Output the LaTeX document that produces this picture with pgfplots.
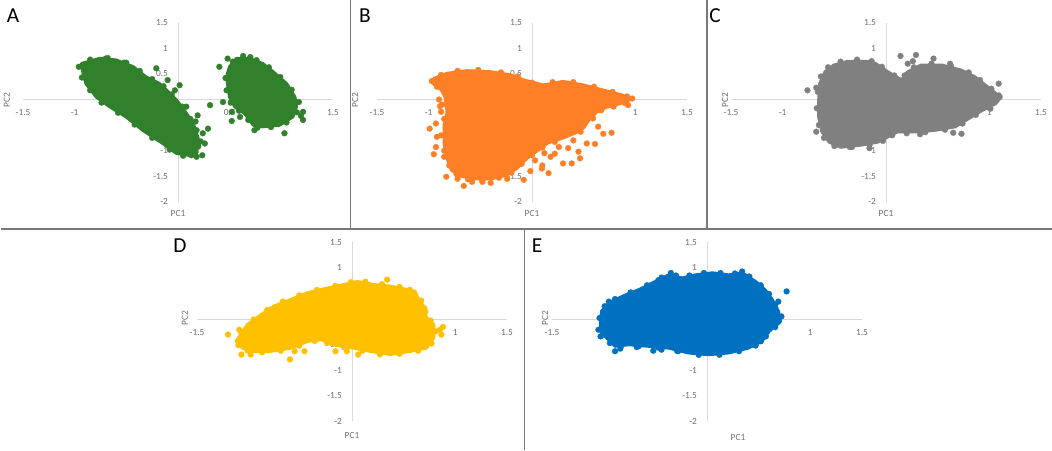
\documentclass[border=0pt]{standalone}
\usepackage{pgfplots}
\pgfplotsset{compat=1.18}
\usepackage{fontspec}
\setmainfont{Carlito}
\definecolor{cA}{RGB}{49,128,43}
\definecolor{cB}{RGB}{255,127,39}
\definecolor{cC}{RGB}{128,128,128}
\definecolor{cD}{RGB}{255,192,0}
\definecolor{cE}{RGB}{0,112,192}
\definecolor{axgray}{RGB}{217,217,217}
\definecolor{ticklab}{RGB}{110,110,110}
\definecolor{framegray}{RGB}{120,120,120}
\pgfplotsset{
  pca/.style={
    scale only axis, width=232.5pt, height=134.25pt,
    xmin=-1.5, xmax=1.5, ymin=-2, ymax=1.5,
    axis lines=middle, axis line style={draw=axgray, line width=0.75pt, -},
    xtick={-1.5,-1,-0.5,0,0.5,1,1.5},
    xticklabels={-1.5,-1,-0.5,0,0.5,1,1.5},
    ytick={-2,-1.5,-1,-0.5,0,0.5,1,1.5},
    yticklabels={-2,-1.5,-1,-0.5,0,0.5,1,1.5},
    major tick length=0pt,
    hide obscured x ticks=false, hide obscured y ticks=false,
    tick label style={font=\fontsize{7}{8}\selectfont, text=ticklab},
    xticklabel style={anchor=north, yshift=-4pt},
    yticklabel style={anchor=east, xshift=-4pt},
    anchor=origin, clip=false,
  },
  cloud/.style={fill=#1, draw=#1, line width=2.5pt, line join=round},
  dots/.style={only marks, mark=*, mark size=2.2pt,
    mark options={fill=#1, draw=#1, line width=0.2pt}},
}
\begin{document}
\begin{tikzpicture}
\useasboundingbox (0,0) rectangle (789pt,-337.5pt);

% ---------------- A ----------------
\begin{axis}[pca, at={(133.5pt,-74.625pt)}]
\addplot[cloud=cA] coordinates {
(-0.935,0.70) (-0.76,0.80) (-0.60,0.77) (-0.435,0.64) (-0.31,0.44) (-0.18,0.31)
(-0.11,0.18) (-0.016,-0.01) (0.08,-0.27) (0.145,-0.47) (0.19,-0.73) (0.21,-0.925)
(0.11,-1.09) (-0.016,-1.05) (-0.145,-0.86) (-0.34,-0.60) (-0.5,-0.34) (-0.66,-0.14)
(-0.79,0.05) (-0.89,0.31) (-0.92,0.54)} -- cycle;
\addplot[cloud=cA] coordinates {
(0.50,0.64) (0.565,0.80) (0.69,0.80) (0.82,0.70) (0.92,0.54) (1.05,0.31) (1.13,0.05)
(1.145,-0.14) (1.11,-0.34) (0.98,-0.50) (0.82,-0.53) (0.73,-0.50) (0.645,-0.27)
(0.55,-0.14) (0.50,0.05) (0.48,0.31) (0.48,0.51)} -- cycle;
\addplot[dots=cA] coordinates {
(-0.21,0.61) (-0.10,0.38) (0.016,0.28) (-0.03,0.18) (0.08,-0.14) (0.31,-0.11)
(0.29,-0.57) (0.24,-0.66) (0.26,-0.86) (0.235,-1.09) (0.18,-1.12) (0.13,-1.09)
(0.19,-0.31) (0.17,-0.43) (0.07,-0.33) (-0.70,0.80) (-0.50,0.72)
(0.40,0.64) (0.48,0.80) (0.70,0.83) (0.435,-0.05) (0.52,-0.24) (0.52,-0.42)
(0.60,-0.34) (0.74,-0.60) (1.03,-0.66) (1.21,-0.24) (1.21,-0.40) (1.19,-0.32)
(-0.85,0.78) (-0.68,0.81) (-0.52,0.72) (-0.37,0.56) (-0.25,0.40) (-0.14,0.26)
(-0.06,0.10) (0.04,-0.14) (0.12,-0.38) (0.18,-0.60) (0.22,-0.82) (0.17,-1.02)
(0.05,-1.10) (-0.08,-0.98) (-0.25,-0.75) (-0.42,-0.49) (-0.58,-0.26) (-0.74,-0.06)
(-0.85,0.18) (-0.93,0.43) (-0.96,0.64)
(0.53,0.74) (0.63,0.85) (0.76,0.77) (0.88,0.63) (0.99,0.44) (1.10,0.19) (1.17,-0.05)
(1.15,-0.25) (1.05,-0.45) (0.90,-0.54) (0.77,-0.55) (0.68,-0.40) (0.59,-0.22)
(0.51,-0.06) (0.47,0.18) (0.46,0.42)};
\end{axis}

% ---------------- B ----------------
\begin{axis}[pca, at={(399pt,-74.625pt)}]
\addplot[cloud=cB] coordinates {
(-0.95,0.41) (-0.82,0.51) (-0.63,0.56) (-0.40,0.54) (-0.21,0.48) (-0.08,0.38)
(0.11,0.28) (0.30,0.35) (0.50,0.28) (0.69,0.18) (0.88,0.08) (0.95,0.0) (0.85,-0.08)
(0.72,-0.15) (0.62,-0.25) (0.55,-0.40) (0.50,-0.55) (0.42,-0.65) (0.30,-0.75)
(0.15,-0.85) (0.05,-1.0) (-0.05,-1.15) (-0.15,-1.35) (-0.25,-1.48) (-0.40,-1.55)
(-0.55,-1.55) (-0.68,-1.50) (-0.78,-1.38) (-0.82,-1.15) (-0.85,-0.85) (-0.85,-0.50)
(-0.82,-0.25) (-0.84,0.05) (-0.88,0.20) (-0.95,0.30)} -- cycle;
\addplot[dots=cB] coordinates {
(-0.90,0) (-0.89,-0.13) (-0.88,-0.24) (-0.99,-0.57) (-0.93,-0.47) (-0.92,-0.73)
(-0.93,-0.93) (-0.95,-1.07) (-0.85,-1.12) (-0.83,-1.51) (-0.79,-1.29) (-0.72,-1.55)
(-0.66,-1.69) (-0.58,-1.61) (-0.48,-1.61) (-0.40,-1.63) (-0.24,-1.55) (-0.08,-1.57)
(-0.016,-1.40) (0.096,-1.35) (0.16,-1.44) (0.10,-1.29) (0.03,-1.19) (0.18,-1.12)
(0.22,-1.06) (0.30,-1.25) (0.385,-1.25) (0.465,-1.15) (0.45,-1.02) (0.53,-0.86)
(0.61,-0.87) (0.69,-0.67) (0.77,-0.65) (0.64,-0.53) (0.59,-0.37) (0.56,-0.31)
(0.93,-0.11) (0.97,0.02) (0.79,-0.14) (0.26,-0.93) (-0.02,-1.02) (-0.14,-1.15)
(0.35,-0.95) (0.12,-1.05) (0.40,-0.80)
(-0.88,0.48) (-0.72,0.56) (-0.52,0.58) (-0.30,0.53) (-0.14,0.45) (0.0,0.33)
(0.20,0.34) (0.40,0.34) (0.60,0.25) (0.78,0.15) (0.92,0.06) (0.90,-0.07) (0.67,-0.21)
(0.58,-0.33) (0.47,-0.63) (0.22,-0.83) (0.10,-0.94) (0.0,-1.09) (-0.10,-1.26)
(-0.20,-1.43) (-0.32,-1.53) (-0.48,-1.58) (-0.62,-1.56) (-0.73,-1.46) (-0.80,-1.29)
(-0.85,-1.00) (-0.88,-0.70) (-0.85,-0.38) (-0.87,-0.10) (-0.92,0.25) (-0.97,0.36)};
\end{axis}

% ---------------- C ----------------
\begin{axis}[pca, at={(664.5pt,-74.625pt)}]
\addplot[cloud=cC] coordinates {
(-0.64,0.31) (-0.59,0.54) (-0.505,0.67) (-0.375,0.74) (-0.18,0.74) (-0.10,0.70)
(0.016,0.54) (0.15,0.38) (0.21,0.54) (0.34,0.67) (0.54,0.67) (0.73,0.57) (0.86,0.44)
(0.96,0.28) (1.06,0.12) (1.10,0.02) (1.06,-0.08) (0.93,-0.21) (0.80,-0.37)
(0.67,-0.53) (0.47,-0.60) (0.28,-0.63) (0.11,-0.63) (0.016,-0.73) (-0.08,-0.83)
(-0.245,-0.89) (-0.44,-0.93) (-0.55,-0.83) (-0.62,-0.63) (-0.65,-0.34) (-0.65,-0.01)} -- cycle;
\addplot[dots=cC] coordinates {
(-0.76,0.18) (-0.675,0.23) (-0.675,-0.63) (-0.33,-0.93) (-0.16,-0.95) (0.14,0.85)
(0.29,0.87) (0.21,0.70) (0.46,0.80) (0.62,0.70) (1.09,0.31) (0.98,0.20) (1.01,-0.18)
(1.10,0.05) (0.33,-0.68) (0.65,-0.65) (0.73,-0.67) (0.26,0.75)
(-0.63,0.45) (-0.56,0.63) (-0.44,0.74) (-0.28,0.78) (-0.14,0.75) (-0.04,0.64)
(0.08,0.47) (0.18,0.47) (0.27,0.63) (0.44,0.70) (0.63,0.65) (0.80,0.53) (0.91,0.38)
(1.02,0.21) (1.09,0.08) (1.00,-0.15) (0.87,-0.30) (0.74,-0.47) (0.57,-0.59)
(0.38,-0.64) (0.20,-0.66) (0.06,-0.70) (-0.03,-0.81) (-0.16,-0.89) (-0.35,-0.93)
(-0.50,-0.91) (-0.60,-0.75) (-0.65,-0.50) (-0.67,-0.17) (-0.66,0.15)};
\end{axis}

% ---------------- D ----------------
\begin{axis}[pca, at={(264pt,-239.25pt)}]
\addplot[cloud=cD] coordinates {
(-1.12,-0.435) (-1.01,-0.11) (-0.88,0.08) (-0.755,0.25) (-0.59,0.38) (-0.43,0.51)
(-0.24,0.60) (-0.08,0.67) (0.05,0.73) (0.21,0.67) (0.37,0.64) (0.545,0.57) (0.63,0.44)
(0.69,0.25) (0.72,0.02) (0.79,-0.11) (0.79,-0.37) (0.72,-0.565) (0.56,-0.63)
(0.37,-0.69) (0.18,-0.63) (0.016,-0.565) (-0.18,-0.50) (-0.30,-0.40) (-0.43,-0.435)
(-0.59,-0.565) (-0.79,-0.63) (-0.95,-0.63) (-1.06,-0.565)} -- cycle;
\addplot[dots=cD] coordinates {
(-1.20,-0.305) (-1.09,-0.21) (-1.07,-0.695) (-0.98,-0.695) (-0.60,-0.79) (-0.555,-0.63)
(-0.46,-0.63) (-0.16,-0.63) (-0.05,-0.63) (0.06,-0.695) (0.34,0.77) (0.56,0.57)
(0.61,0.47) (0.70,0.21) (0.70,0.05) (0.88,-0.155) (0.85,-0.21) (0.865,-0.305)
(-1.07,-0.27) (-0.95,-0.01) (-0.82,0.18) (-0.67,0.34) (-0.51,0.46) (-0.34,0.57)
(-0.16,0.65) (-0.01,0.72) (0.13,0.73) (0.29,0.68) (0.46,0.63) (0.60,0.52) (0.67,0.36)
(0.71,0.14) (0.76,-0.03) (0.81,-0.24) (0.77,-0.48) (0.64,-0.62) (0.46,-0.68)
(0.27,-0.69) (0.10,-0.62) (-0.08,-0.55) (-0.24,-0.47) (-0.36,-0.43) (-0.51,-0.52)
(-0.69,-0.62) (-0.87,-0.65) (-1.01,-0.62) (-1.10,-0.51)};
\end{axis}

% ---------------- E ----------------
\begin{axis}[pca, at={(530.25pt,-239.25pt)}]
\addplot[cloud=cE] coordinates {
(-1.03,-0.11) (-1.02,0.15) (-0.95,0.31) (-0.82,0.44) (-0.66,0.57) (-0.50,0.73)
(-0.37,0.86) (-0.24,0.80) (-0.11,0.86) (0.05,0.90) (0.21,0.86) (0.34,0.90) (0.47,0.73)
(0.56,0.57) (0.63,0.38) (0.69,0.15) (0.71,-0.05) (0.60,-0.24) (0.53,-0.435)
(0.40,-0.565) (0.21,-0.66) (0.016,-0.695) (-0.18,-0.66) (-0.37,-0.565) (-0.565,-0.53)
(-0.76,-0.50) (-0.89,-0.53) (-0.97,-0.37) (-1.02,-0.24)} -- cycle;
\addplot[dots=cE] coordinates {
(-1.03,-0.34) (-1.05,-0.21) (-0.89,-0.63) (-0.84,-0.58) (-0.68,-0.55) (-0.52,-0.62)
(-0.44,-0.60) (-0.29,-0.62) (0.77,0.54) (0.69,0.34) (0.68,-0.05) (0.52,-0.435)
(0.34,0.93) (-0.35,0.90) (-0.47,0.76) (-0.95,0.34)
(-1.04,0.02) (-0.99,0.25) (-0.89,0.39) (-0.74,0.52) (-0.58,0.66) (-0.44,0.81)
(-0.30,0.85) (-0.17,0.85) (-0.03,0.90) (0.13,0.90) (0.27,0.89) (0.41,0.83) (0.52,0.66)
(0.60,0.49) (0.66,0.28) (0.72,0.05) (0.66,-0.16) (0.57,-0.34) (0.47,-0.52)
(0.31,-0.63) (0.12,-0.70) (-0.08,-0.70) (-0.28,-0.63) (-0.47,-0.56) (-0.66,-0.53)
(-0.83,-0.53) (-0.94,-0.47) (-1.01,-0.31)};
\end{axis}

\begin{scope}[x=0.75pt, y=-0.75pt]
  % frame lines
  \draw[framegray, line width=1pt] (1,229) -- (1052,229);
  \draw[framegray, line width=1pt] (350.7,0) -- (350.7,229);
  \draw[framegray, line width=1pt] (707,0) -- (707,229);
  \draw[framegray, line width=1pt] (524.3,229) -- (524.3,450);
  % panel letters
  \node[font=\fontsize{16}{18}\selectfont] at (13,16) {A};
  \node[font=\fontsize{16}{18}\selectfont] at (365,16) {B};
  \node[font=\fontsize{16}{18}\selectfont] at (715,16) {C};
  \node[font=\fontsize{16}{18}\selectfont] at (180,246) {D};
  \node[font=\fontsize{16}{18}\selectfont] at (537,246) {E};
  % axis titles
  \foreach \px/\py in {178/213, 532/213, 886/213, 352/435, 738/437}
    \node[font=\fontsize{7}{8}\selectfont, text=ticklab] at (\px,\py) {PC1};
  \foreach \px/\py in {7/100, 355/100, 725/100, 185/318, 545/318}
    \node[font=\fontsize{7}{8}\selectfont, text=ticklab, rotate=90] at (\px,\py) {PC2};
\end{scope}
\end{tikzpicture}
\end{document}
